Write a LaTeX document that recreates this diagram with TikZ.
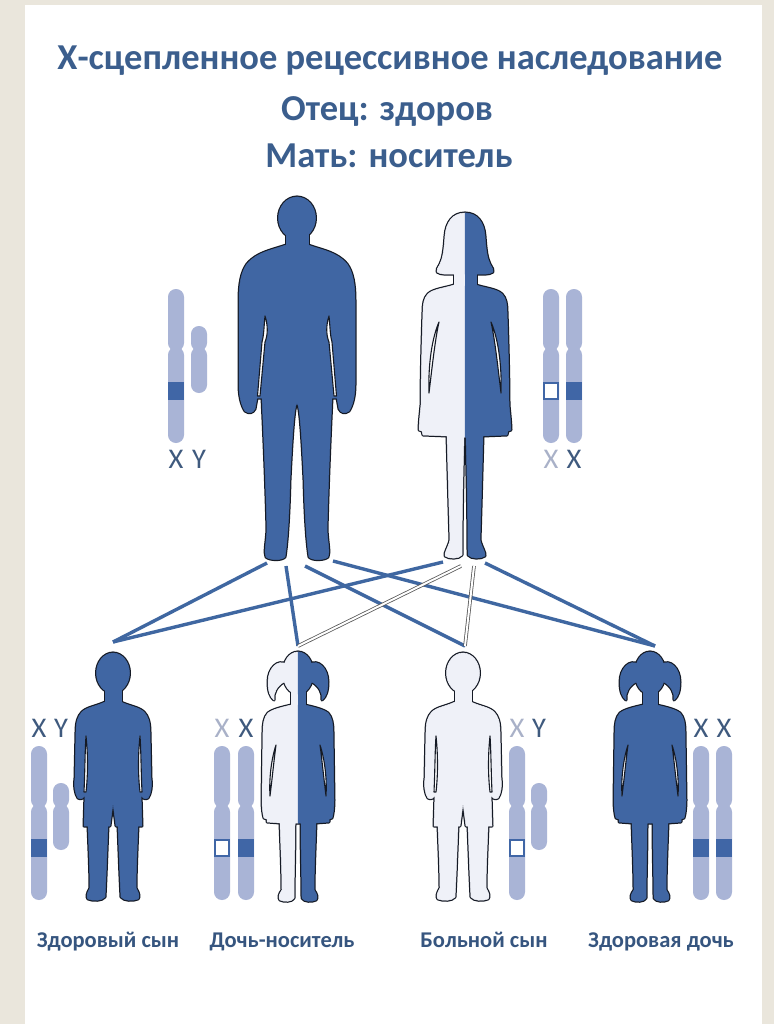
\documentclass[tikz,border=0pt]{standalone}
\usepackage{fontspec}
\setmainfont{Carlito}
\definecolor{beige}{HTML}{EAE6DC}
\definecolor{figblue}{HTML}{4066A3}
\definecolor{figlight}{HTML}{EFF1F8}
\definecolor{outl}{HTML}{151A25}
\definecolor{chromo}{HTML}{A9B4D6}
\definecolor{band}{HTML}{4066A6}
\definecolor{ttl}{HTML}{3B5E8D}
\definecolor{capt}{HTML}{36557F}
\definecolor{lblX}{HTML}{3F5A7E}
\definecolor{lblXl}{HTML}{A9B1C8}
\definecolor{link}{HTML}{3F67A1}

% ---------- left halves of the silhouettes (x relative to the axis, absolute y) ----------
\newcommand\manhalf[1]{%
 \path[#1] (0,197) .. controls (-10.2,197) and (-18.5,206.4) .. (-18.5,218) .. controls (-18.5,229.6) and (-10.2,239) .. (0,239) -- cycle;
 \path[#1] (0,230) -- (-11,230) -- (-11,250) -- (0,250) -- cycle;
 \path[#1] (0,245) -- (-11,245) .. controls (-25,250) and (-40,252) .. (-50,264) .. controls (-56,272) and (-58,285) .. (-58,300) -- (-58,385) .. controls (-58,395) and (-56,405) .. (-52,411) .. controls (-48,414) and (-44,413) .. (-42,409) -- (-40,398) -- (-35,398) .. controls (-33,440) and (-31,490) .. (-30,530) .. controls (-31,545) and (-33,552) .. (-31,557) .. controls (-28,560) and (-16,561) .. (-12,557) .. controls (-10,545) and (-8,520) .. (-7,480) .. controls (-5,440) and (-3,405) .. (0,403) -- cycle;
}
\newcommand\mangap{%
 \path[fill=white,draw=outl,line width=1.1pt,line join=round] (-32,316) .. controls (-29,325) and (-29,335) .. (-32,342) -- (-37,396) -- (-39.5,396) -- (-35,342) .. controls (-33,335) and (-33,325) .. (-32,316) -- cycle;
}
\newcommand\womanhalf[1]{%
 \path[#1] (0,213) .. controls (-12,213) and (-19,222) .. (-20,236) .. controls (-21,250) and (-22,258) .. (-25,264) .. controls (-27,268) and (-29,270) .. (-28,272) .. controls (-24,275) and (-17,274) .. (-12,274) -- (0,274) -- cycle;
 \path[#1] (0,270) -- (-11,270) -- (-11,290) -- (0,290) -- cycle;
 \path[#1] (0,286) -- (-11,285) .. controls (-20,288) and (-32,289) .. (-37,294) .. controls (-41,298) and (-42,304) .. (-42,312) .. controls (-43,340) and (-44,380) .. (-44,405) .. controls (-45,415) and (-46,425) .. (-46,430) -- (-43,431) -- (-42,435) -- (-18,436) .. controls (-17,470) and (-16,510) .. (-15,540) .. controls (-17,548) and (-21,553) .. (-20,556) .. controls (-16,559) and (-6,559) .. (-3,555) .. controls (-3,520) and (-2,470) .. (-1,437) -- (0,437) -- cycle;
}
\newcommand\womangap{%
 \path[fill=white,draw=outl,line width=1.1pt,line join=round] (-26,322) .. controls (-33,338) and (-37,365) .. (-36,393) .. controls (-33,368) and (-30,340) .. (-26,322) -- cycle;
}
\newcommand\boyhalf[1]{%
 \path[#1] (0,653) .. controls (-9,653) and (-16.5,662) .. (-16.5,673) .. controls (-16.5,684) and (-9,693) .. (0,693) -- cycle;
 \path[#1] (0,688) -- (-8,688) -- (-8,706) -- (0,706) -- cycle;
 \path[#1] (0,702) -- (-8,702) .. controls (-16,706) and (-26,707) .. (-31,712) .. controls (-35,716) and (-37,722) .. (-37,732) -- (-38,778) .. controls (-39,786) and (-38,794) .. (-35,798) .. controls (-32,800) and (-29,798) .. (-28,794) -- (-29,826) -- (-25,826) .. controls (-24,850) and (-23,875) .. (-23,888) .. controls (-26,893) and (-27,897) .. (-25,899) .. controls (-20,901) and (-11,901) .. (-8,897) .. controls (-7,880) and (-6,850) .. (-5,826) -- (-3,826) -- (0,803) -- cycle;
}
\newcommand\boygap{%
 \path[fill=white,draw=outl,line width=1.1pt,line join=round] (-27,736) .. controls (-25,755) and (-25,775) .. (-27,792) -- (-29,792) .. controls (-28,770) and (-28,750) .. (-27,736) -- cycle;
}
\newcommand\girlhalf[1]{%
 \path[#1] (0,652) .. controls (-8.5,652) and (-15,661) .. (-15,673) .. controls (-15,685) and (-8.5,694) .. (0,694) -- cycle;
 \path[#1] (-12,664) .. controls (-20,659) and (-30,668) .. (-30,682) .. controls (-30,691) and (-28,697) .. (-24,700) .. controls (-25,693) and (-21,686) .. (-14,682) -- cycle;
 \path[#1] (0,688) -- (-7,688) -- (-7,708) -- (0,708) -- cycle;
 \path[#1] (0,705) -- (-7,705) .. controls (-15,707) and (-25,709) .. (-30,713) .. controls (-34,717) and (-35,724) .. (-35,732) -- (-36,800) .. controls (-36,808) and (-35,815) .. (-34,818) -- (-31,819) -- (-31,822) -- (-18,823) .. controls (-17,850) and (-16,875) .. (-16,890) .. controls (-19,894) and (-20,898) .. (-18,900) .. controls (-14,902) and (-6,902) .. (-4,898) .. controls (-4,880) and (-3,850) .. (-3,823) -- (0,823) -- cycle;
}
\newcommand\girlgap{%
 \path[fill=white,draw=outl,line width=1.1pt,line join=round] (-22,745) .. controls (-27,760) and (-29,780) .. (-28,796) .. controls (-26,780) and (-24,760) .. (-22,745) -- cycle;
}

% person: #1 axis x, #2 half shape, #3 arm gaps, #4 left colour, #5 right colour
\newcommand\person[5]{%
 \begin{scope}[shift={(#1,0)}]
  #2{draw=outl,line width=3pt,line join=round}
  \begin{scope}[xscale=-1]#2{draw=outl,line width=3pt,line join=round}\end{scope}
  #2{fill=#4,draw=#4,line width=0.5pt}
  \begin{scope}[xscale=-1]#2{fill=#5,draw=#5,line width=0.5pt}\end{scope}
  #3
  \begin{scope}[xscale=-1]#3\end{scope}
 \end{scope}}

% chromosomes: #1 axis x, #2 top y
\newcommand\chrarms[3]{% x, top, bottom; centromere about 60 below the top
 \fill[chromo,rounded corners=7.9pt] ({#1-8},#2) rectangle ({#1+8},{#2+62});
 \fill[chromo,rounded corners=7.9pt] ({#1-8},{#2+58}) rectangle ({#1+8},{#3});}
\newcommand\xhealthy[2]{%
 \chrarms{#1}{#2}{#2+154}
 \fill[band] ({#1-8},{#2+93}) rectangle ({#1+8},{#2+111});}
\newcommand\xmutant[2]{%
 \chrarms{#1}{#2}{#2+154}
 \fill[band] ({#1-8},{#2+93}) rectangle ({#1+8},{#2+111});
 \fill[white] ({#1-6},{#2+95}) rectangle ({#1+6},{#2+109});}
\newcommand\ychr[2]{%
 \fill[chromo,rounded corners=7.9pt] ({#1-8},{#2+37}) rectangle ({#1+8},{#2+62});
 \fill[chromo,rounded corners=7.9pt] ({#1-8},{#2+58}) rectangle ({#1+8},{#2+104});}

\tikzset{
 ttlstyle/.style={text=ttl,font=\fontsize{36.5}{40}\selectfont\bfseries,anchor=base,inner sep=0pt},
 capstyle/.style={text=capt,font=\fontsize{22.5}{26}\selectfont\bfseries,anchor=base,inner sep=0pt},
 chrlbl/.style={font=\fontsize{28.5}{30}\selectfont,anchor=base,inner sep=0pt},
 bluelink/.style={draw=link,line width=3.4pt},
 whitelinkedge/.style={draw=gray!70!black,line width=3.6pt},
 whitelinkcore/.style={draw=white,line width=2pt}
}

\begin{document}
\begin{tikzpicture}[x=1pt,y=-1pt]
\useasboundingbox (0,0) rectangle (774,1024);
\fill[beige] (0,0) rectangle (774,1024);
\fill[white] (25,5) rectangle (762,1024);

% headings
\node[ttlstyle] (title) at (390,70) {Х-сцепленное рецессивное наследование};
\node[ttlstyle] (father-h) at (387,121) {Отец: здоров};
\node[ttlstyle] (mother-h) at (389,168) {Мать: носитель};

% connector end points
\coordinate (f1) at (267,563);
\coordinate (f2) at (286,566);
\coordinate (f3) at (305,566);
\coordinate (f4) at (333,561);
\coordinate (m1) at (443,562);
\coordinate (m2) at (461,566);
\coordinate (m3) at (474,566);
\coordinate (m4) at (485,563);
\coordinate (c1) at (113,642);
\coordinate (c2) at (298,646);
\coordinate (c3) at (465,646);
\coordinate (c4) at (655,646);

% inheritance lines
\draw[bluelink] (f1) -- (c1);
\draw[bluelink] (m1) -- (c1);
\draw[bluelink] (f2) -- (c2);
\draw[bluelink] (f3) -- (c3);
\draw[bluelink] (f4) -- (c4);
\draw[bluelink] (m4) -- (c4);
\draw[whitelinkedge] (m2) -- (c2);
\draw[whitelinkcore] (m2) -- (c2);
\draw[whitelinkedge] (m3) -- (c3);
\draw[whitelinkcore] (m3) -- (c3);

% parents
\person{297}{\manhalf}{\mangap}{figblue}{figblue}
\person{465}{\womanhalf}{\womangap}{figlight}{figblue}
% children
\person{113}{\boyhalf}{\boygap}{figblue}{figblue}
\person{298}{\girlhalf}{\girlgap}{figlight}{figblue}
\person{463}{\boyhalf}{\boygap}{figlight}{figlight}
\person{650}{\girlhalf}{\girlgap}{figblue}{figblue}

% chromosomes, parents
\xhealthy{176}{289}
\ychr{199}{289}
\xmutant{551}{289}
\xhealthy{574}{289}
% chromosomes, children
\xhealthy{39}{746}
\ychr{61}{746}
\xmutant{222}{746}
\xhealthy{246}{746}
\xmutant{517}{746}
\ychr{539}{746}
\xhealthy{701}{746}
\xhealthy{724}{746}

% chromosome letters
\node[chrlbl,text=lblX] (fx) at (176,468) {X};
\node[chrlbl,text=lblX] (fy) at (199,468) {Y};
\node[chrlbl,text=lblXl] (mx1) at (551,468) {X};
\node[chrlbl,text=lblX] (mx2) at (574,468) {X};
\node[chrlbl,text=lblX] (s1x) at (39,737) {X};
\node[chrlbl,text=lblX] (s1y) at (61,737) {Y};
\node[chrlbl,text=lblXl] (d1x1) at (222,737) {X};
\node[chrlbl,text=lblX] (d1x2) at (246,737) {X};
\node[chrlbl,text=lblXl] (s2x) at (517,737) {X};
\node[chrlbl,text=lblX] (s2y) at (539,737) {Y};
\node[chrlbl,text=lblX] (d2x1) at (701,737) {X};
\node[chrlbl,text=lblX] (d2x2) at (724,737) {X};

% captions
\node[capstyle] (cap1) at (108,947) {Здоровый сын};
\node[capstyle] (cap2) at (282,947) {Дочь-носитель};
\node[capstyle] (cap3) at (484,947) {Больной сын};
\node[capstyle] (cap4) at (661,947) {Здоровая дочь};
\end{tikzpicture}
\end{document}
